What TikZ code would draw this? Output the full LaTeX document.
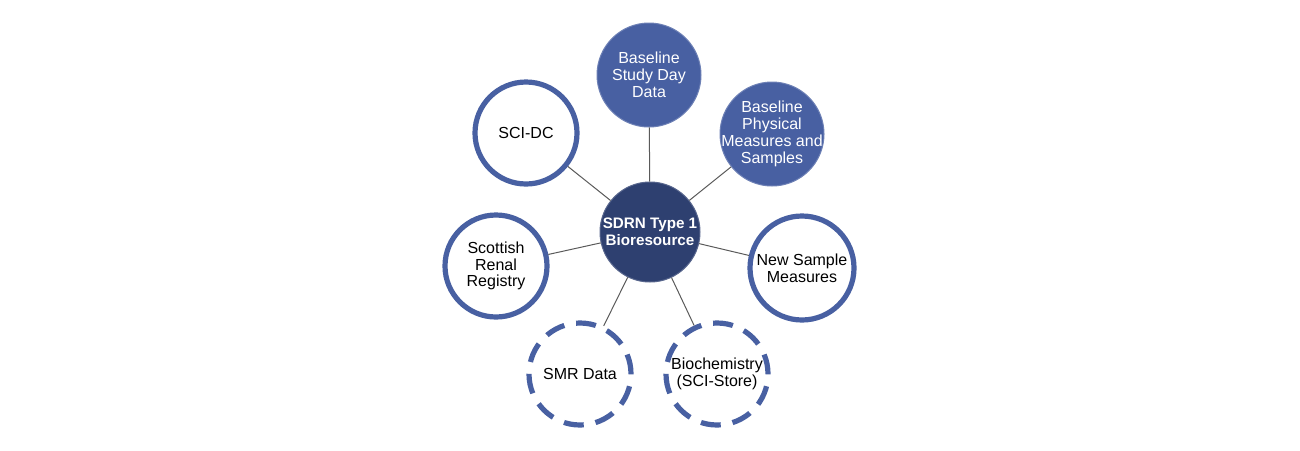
\documentclass[tikz,border=0pt]{standalone}
\usepackage{fontspec}
\setmainfont{Liberation Sans}
\usepackage{tikz}
\definecolor{sdrnblue}{RGB}{72,96,162}
\definecolor{sdrnnavy}{RGB}{46,64,112}
\definecolor{linkgray}{RGB}{90,90,90}

\begin{document}
\begin{tikzpicture}[x=0.5pt,y=-0.5pt,
  hub/.style={circle,fill=sdrnnavy,draw=sdrnnavy!80!white,line width=0.5pt,minimum size=50pt,inner sep=0pt,align=center,text=white,font=\fontsize{7.6}{8.4}\selectfont\bfseries},
  filled/.style={circle,fill=sdrnblue,draw=sdrnblue!80!white,line width=0.5pt,minimum size=52pt,inner sep=0pt,align=center,text=white,font=\fontsize{8}{8.4}\selectfont},
  ringed/.style={circle,fill=white,draw=sdrnblue,line width=2.6pt,minimum size=51pt,inner sep=0pt,align=center,font=\fontsize{8}{8.4}\selectfont},
  dashring/.style={ringed,dash pattern=on 10pt off 6pt},
  link/.style={draw=linkgray,line width=0.5pt}]
\useasboundingbox (0,0) rectangle (1300,450);
% centre and surrounding sources
\node[hub] (hub) at (650,232) {SDRN Type 1\\Bioresource};
\node[filled] (study) at (649,75) {Baseline\\Study Day\\Data};
\node[filled,inner sep=-4pt] (phys) at (772,134) {Baseline\\Physical\\Measures and\\Samples};
\node[ringed] (scidc) at (526,133) {SCI-DC};
\node[ringed] (renal) at (496,266) {Scottish\\Renal\\Registry};
\node[ringed,minimum size=52pt] (newsample) at (802,268) {New Sample\\Measures};
\node[dashring] (smr) at (580,374) {SMR Data};
\node[dashring] (biochem) at (717,374) {Biochemistry\\(SCI-Store)};
% links
\foreach \n in {study,phys,scidc,renal,newsample,smr,biochem}
  \draw[link] (hub) -- (\n);
\end{tikzpicture}
\end{document}
